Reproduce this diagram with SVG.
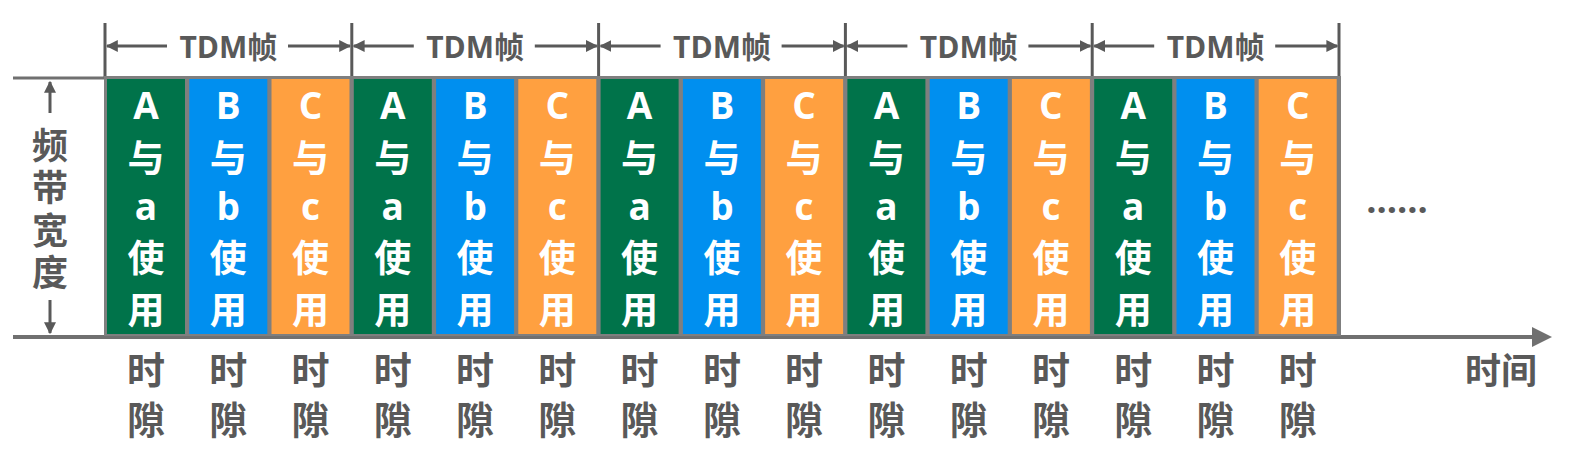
<svg xmlns="http://www.w3.org/2000/svg" width="1572" height="458" viewBox="0 0 1572 458">
<style>
.cell{font-family:"Open Sans","Noto Sans CJK SC",sans-serif;font-weight:bold;font-size:37px;fill:#ffffff;text-anchor:middle}
.lbl{font-family:"Open Sans","Noto Sans CJK SC",sans-serif;font-weight:bold;font-size:38px;fill:#595959;text-anchor:middle}
.tdm{font-family:"Open Sans","Noto Sans CJK SC",sans-serif;font-weight:bold;font-size:30px;fill:#595959;text-anchor:middle}
.vert{font-family:"Noto Sans CJK SC",sans-serif;font-weight:bold;font-size:36px;fill:#595959;writing-mode:vertical-rl;text-orientation:upright;letter-spacing:6.5px}
.g{fill:#00734A}.b{fill:#008FEF}.o{fill:#FFA040}
.ln{stroke:#595959;stroke-width:3;fill:none}
.ax{stroke:#707070;stroke-width:4;fill:none}
</style>
<defs>
<marker id="ah" viewBox="0 0 10 10" refX="9" refY="5" markerWidth="4" markerHeight="4" orient="auto-start-reverse" markerUnits="strokeWidth"><path d="M0,0 L10,5 L0,10 z" fill="#595959"/></marker>
<marker id="axh" viewBox="0 0 10 10" refX="2" refY="5" markerWidth="5" markerHeight="5" orient="auto" markerUnits="strokeWidth"><path d="M0,0 L10,5 L0,10 z" fill="#707070"/></marker>
</defs>
<g id="connectors">
<line class="ax" x1="13" y1="78" x2="105" y2="78" style="stroke-width:3"/>
<line class="ax" x1="13" y1="337" x2="1536" y2="337" marker-end="url(#axh)"/>
<line class="ln" x1="50" y1="113" x2="50" y2="82" marker-end="url(#ah)"/>
<line class="ln" x1="50" y1="300" x2="50" y2="333" marker-end="url(#ah)"/>
<g class="ln">
<line x1="105" y1="23" x2="105" y2="77"/><line x1="351.8" y1="23" x2="351.8" y2="77"/><line x1="598.6" y1="23" x2="598.6" y2="77"/><line x1="845.4" y1="23" x2="845.4" y2="77"/><line x1="1092.2" y1="23" x2="1092.2" y2="77"/><line x1="1339" y1="23" x2="1339" y2="77"/>
</g>
<g class="ln" marker-end="url(#ah)">
<line x1="167" y1="46" x2="107" y2="46"/><line x1="288" y1="46" x2="350" y2="46"/>
<line x1="413.8" y1="46" x2="353.8" y2="46"/><line x1="534.8" y1="46" x2="596.8" y2="46"/>
<line x1="660.6" y1="46" x2="600.6" y2="46"/><line x1="781.6" y1="46" x2="843.6" y2="46"/>
<line x1="907.4" y1="46" x2="847.4" y2="46"/><line x1="1028.4" y1="46" x2="1090.4" y2="46"/>
<line x1="1154.2" y1="46" x2="1094.2" y2="46"/><line x1="1275.2" y1="46" x2="1337.2" y2="46"/>
</g>
</g>
<g id="frame-labels">
<text class="tdm" x="228.4" y="58">TDM帧</text>
<text class="tdm" x="475.2" y="58">TDM帧</text>
<text class="tdm" x="722" y="58">TDM帧</text>
<text class="tdm" x="968.8" y="58">TDM帧</text>
<text class="tdm" x="1215.6" y="58">TDM帧</text>
</g>
<g id="bandwidth-label">
<text class="vert" x="50" y="127">频带宽度</text>
</g>
<rect id="strip-border" x="104" y="76" width="1237" height="260" fill="#7f7f7f"/>
<g id="slots">
<g id="slot1"><rect class="g" x="107" y="79" width="78" height="255"/><text class="cell" x="146" y="119">A</text><text class="cell" x="146" y="172">与</text><text class="cell" x="146" y="220">a</text><text class="cell" x="146" y="272">使</text><text class="cell" x="146" y="324">用</text></g>
<g id="slot2"><rect class="b" x="189.3" y="79" width="78" height="255"/><text class="cell" x="228.3" y="119">B</text><text class="cell" x="228.3" y="172">与</text><text class="cell" x="228.3" y="220">b</text><text class="cell" x="228.3" y="272">使</text><text class="cell" x="228.3" y="324">用</text></g>
<g id="slot3"><rect class="o" x="271.5" y="79" width="78" height="255"/><text class="cell" x="310.5" y="119">C</text><text class="cell" x="310.5" y="172">与</text><text class="cell" x="310.5" y="220">c</text><text class="cell" x="310.5" y="272">使</text><text class="cell" x="310.5" y="324">用</text></g>
<g id="slot4"><rect class="g" x="353.8" y="79" width="78" height="255"/><text class="cell" x="392.8" y="119">A</text><text class="cell" x="392.8" y="172">与</text><text class="cell" x="392.8" y="220">a</text><text class="cell" x="392.8" y="272">使</text><text class="cell" x="392.8" y="324">用</text></g>
<g id="slot5"><rect class="b" x="436.1" y="79" width="78" height="255"/><text class="cell" x="475.1" y="119">B</text><text class="cell" x="475.1" y="172">与</text><text class="cell" x="475.1" y="220">b</text><text class="cell" x="475.1" y="272">使</text><text class="cell" x="475.1" y="324">用</text></g>
<g id="slot6"><rect class="o" x="518.3" y="79" width="78" height="255"/><text class="cell" x="557.3" y="119">C</text><text class="cell" x="557.3" y="172">与</text><text class="cell" x="557.3" y="220">c</text><text class="cell" x="557.3" y="272">使</text><text class="cell" x="557.3" y="324">用</text></g>
<g id="slot7"><rect class="g" x="600.6" y="79" width="78" height="255"/><text class="cell" x="639.6" y="119">A</text><text class="cell" x="639.6" y="172">与</text><text class="cell" x="639.6" y="220">a</text><text class="cell" x="639.6" y="272">使</text><text class="cell" x="639.6" y="324">用</text></g>
<g id="slot8"><rect class="b" x="682.9" y="79" width="78" height="255"/><text class="cell" x="721.9" y="119">B</text><text class="cell" x="721.9" y="172">与</text><text class="cell" x="721.9" y="220">b</text><text class="cell" x="721.9" y="272">使</text><text class="cell" x="721.9" y="324">用</text></g>
<g id="slot9"><rect class="o" x="765.1" y="79" width="78" height="255"/><text class="cell" x="804.1" y="119">C</text><text class="cell" x="804.1" y="172">与</text><text class="cell" x="804.1" y="220">c</text><text class="cell" x="804.1" y="272">使</text><text class="cell" x="804.1" y="324">用</text></g>
<g id="slot10"><rect class="g" x="847.4" y="79" width="78" height="255"/><text class="cell" x="886.4" y="119">A</text><text class="cell" x="886.4" y="172">与</text><text class="cell" x="886.4" y="220">a</text><text class="cell" x="886.4" y="272">使</text><text class="cell" x="886.4" y="324">用</text></g>
<g id="slot11"><rect class="b" x="929.7" y="79" width="78" height="255"/><text class="cell" x="968.7" y="119">B</text><text class="cell" x="968.7" y="172">与</text><text class="cell" x="968.7" y="220">b</text><text class="cell" x="968.7" y="272">使</text><text class="cell" x="968.7" y="324">用</text></g>
<g id="slot12"><rect class="o" x="1011.9" y="79" width="78" height="255"/><text class="cell" x="1050.9" y="119">C</text><text class="cell" x="1050.9" y="172">与</text><text class="cell" x="1050.9" y="220">c</text><text class="cell" x="1050.9" y="272">使</text><text class="cell" x="1050.9" y="324">用</text></g>
<g id="slot13"><rect class="g" x="1094.2" y="79" width="78" height="255"/><text class="cell" x="1133.2" y="119">A</text><text class="cell" x="1133.2" y="172">与</text><text class="cell" x="1133.2" y="220">a</text><text class="cell" x="1133.2" y="272">使</text><text class="cell" x="1133.2" y="324">用</text></g>
<g id="slot14"><rect class="b" x="1176.5" y="79" width="78" height="255"/><text class="cell" x="1215.5" y="119">B</text><text class="cell" x="1215.5" y="172">与</text><text class="cell" x="1215.5" y="220">b</text><text class="cell" x="1215.5" y="272">使</text><text class="cell" x="1215.5" y="324">用</text></g>
<g id="slot15"><rect class="o" x="1258.7" y="79" width="78" height="255"/><text class="cell" x="1297.7" y="119">C</text><text class="cell" x="1297.7" y="172">与</text><text class="cell" x="1297.7" y="220">c</text><text class="cell" x="1297.7" y="272">使</text><text class="cell" x="1297.7" y="324">用</text></g>
</g>
<g id="slot-labels" class="lbl">
<text class="lbl" x="146" y="384">时</text><text class="lbl" x="146" y="434">隙</text>
<text class="lbl" x="228.3" y="384">时</text><text class="lbl" x="228.3" y="434">隙</text>
<text class="lbl" x="310.5" y="384">时</text><text class="lbl" x="310.5" y="434">隙</text>
<text class="lbl" x="392.8" y="384">时</text><text class="lbl" x="392.8" y="434">隙</text>
<text class="lbl" x="475.1" y="384">时</text><text class="lbl" x="475.1" y="434">隙</text>
<text class="lbl" x="557.3" y="384">时</text><text class="lbl" x="557.3" y="434">隙</text>
<text class="lbl" x="639.6" y="384">时</text><text class="lbl" x="639.6" y="434">隙</text>
<text class="lbl" x="721.9" y="384">时</text><text class="lbl" x="721.9" y="434">隙</text>
<text class="lbl" x="804.1" y="384">时</text><text class="lbl" x="804.1" y="434">隙</text>
<text class="lbl" x="886.4" y="384">时</text><text class="lbl" x="886.4" y="434">隙</text>
<text class="lbl" x="968.7" y="384">时</text><text class="lbl" x="968.7" y="434">隙</text>
<text class="lbl" x="1050.9" y="384">时</text><text class="lbl" x="1050.9" y="434">隙</text>
<text class="lbl" x="1133.2" y="384">时</text><text class="lbl" x="1133.2" y="434">隙</text>
<text class="lbl" x="1215.5" y="384">时</text><text class="lbl" x="1215.5" y="434">隙</text>
<text class="lbl" x="1297.7" y="384">时</text><text class="lbl" x="1297.7" y="434">隙</text>
</g>
<g id="ellipsis"><text class="lbl" x="1397" y="213" style="font-size:36px">......</text></g>
<g id="time-label"><text class="lbl" x="1501" y="384" style="font-size:36px">时间</text></g>
</svg>
